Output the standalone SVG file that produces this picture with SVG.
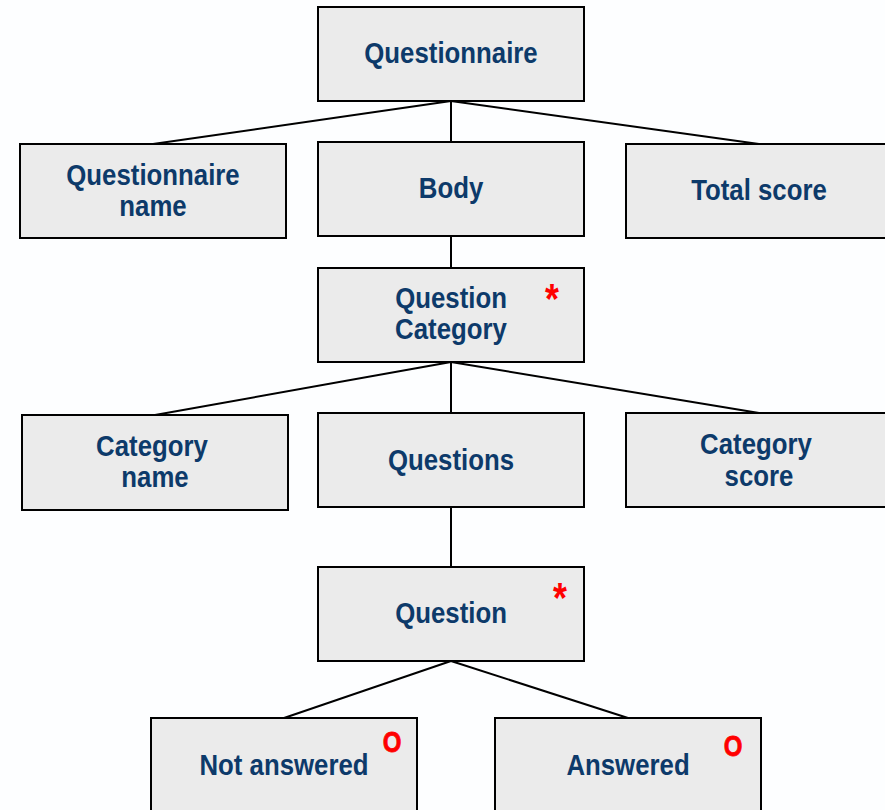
<svg xmlns="http://www.w3.org/2000/svg" width="885" height="810" viewBox="0 0 885 810">
  <style>
    .box rect { fill: #ebebeb; stroke: #000; stroke-width: 2; }
    .lbl { font-family: "Liberation Sans", Arial, sans-serif; font-weight: bold; font-size: 30px; fill: #0d3a6a; text-anchor: middle; }
    .mark { font-family: "Liberation Sans", Arial, sans-serif; font-weight: bold; font-size: 42px; fill: #ff0000; text-anchor: middle; }
    .ring { font-family: "Liberation Sans", Arial, sans-serif; font-weight: bold; font-size: 30px; fill: #ff0000; stroke: #ff0000; stroke-width: 0.8; text-anchor: middle; }
    .conn line { stroke: #000; stroke-width: 2; }
  </style>
  <rect width="885" height="810" fill="#fdfeff"/>

  <g class="conn" id="connectors">
    <line x1="451" y1="101" x2="153" y2="144"/>
    <line x1="451" y1="101" x2="451" y2="142"/>
    <line x1="451" y1="101" x2="759" y2="144"/>
    <line x1="451" y1="236" x2="451" y2="268"/>
    <line x1="451" y1="362" x2="155" y2="415"/>
    <line x1="451" y1="362" x2="451" y2="413"/>
    <line x1="451" y1="362" x2="759" y2="413"/>
    <line x1="451" y1="507" x2="451" y2="567"/>
    <line x1="451" y1="661" x2="284" y2="718"/>
    <line x1="451" y1="661" x2="628" y2="718"/>
  </g>

  <g class="box" id="questionnaire">
    <rect x="318" y="7" width="266" height="94"/>
    <text class="lbl" transform="translate(451 63) scale(0.86 1)">Questionnaire</text>
  </g>
  <g class="box" id="questionnaire-name">
    <rect x="20" y="144" width="266" height="94"/>
    <text class="lbl" transform="translate(153 185) scale(0.86 1)">Questionnaire</text>
    <text class="lbl" transform="translate(153 216) scale(0.86 1)">name</text>
  </g>
  <g class="box" id="body">
    <rect x="318" y="142" width="266" height="94"/>
    <text class="lbl" transform="translate(451 198) scale(0.86 1)">Body</text>
  </g>
  <g class="box" id="total-score">
    <rect x="626" y="144" width="266" height="94"/>
    <text class="lbl" transform="translate(759 200) scale(0.86 1)">Total score</text>
  </g>
  <g class="box" id="question-category">
    <rect x="318" y="268" width="266" height="94"/>
    <text class="lbl" transform="translate(451 308) scale(0.86 1)">Question</text>
    <text class="lbl" transform="translate(451 339) scale(0.86 1)">Category</text>
    <text class="mark" transform="translate(552 313) scale(0.85 1)">*</text>
  </g>
  <g class="box" id="category-name">
    <rect x="22" y="415" width="266" height="95"/>
    <text class="lbl" transform="translate(152 456) scale(0.86 1)">Category</text>
    <text class="lbl" transform="translate(155 487) scale(0.86 1)">name</text>
  </g>
  <g class="box" id="questions">
    <rect x="318" y="413" width="266" height="94"/>
    <text class="lbl" transform="translate(451 470) scale(0.86 1)">Questions</text>
  </g>
  <g class="box" id="category-score">
    <rect x="626" y="413" width="266" height="94"/>
    <text class="lbl" transform="translate(756 454) scale(0.86 1)">Category</text>
    <text class="lbl" transform="translate(759 486) scale(0.86 1)">score</text>
  </g>
  <g class="box" id="question">
    <rect x="318" y="567" width="266" height="94"/>
    <text class="lbl" transform="translate(451 623) scale(0.86 1)">Question</text>
    <text class="mark" transform="translate(560 612) scale(0.85 1)">*</text>
  </g>
  <g class="box" id="not-answered">
    <rect x="151" y="718" width="266" height="100"/>
    <text class="lbl" transform="translate(284 775) scale(0.86 1)">Not answered</text>
    <text class="ring" transform="translate(392 752) scale(0.8 1)">O</text>
  </g>
  <g class="box" id="answered">
    <rect x="495" y="718" width="266" height="100"/>
    <text class="lbl" transform="translate(628 775) scale(0.86 1)">Answered</text>
    <text class="ring" transform="translate(733 756) scale(0.8 1)">O</text>
  </g>
</svg>
